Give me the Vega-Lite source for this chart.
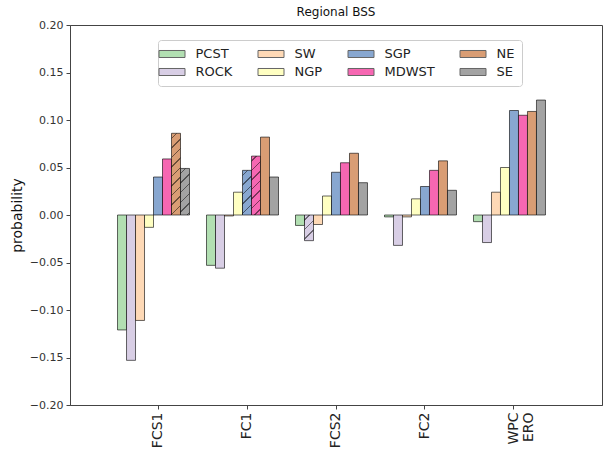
{
  "$schema": "https://vega.github.io/schema/vega-lite/v6.json",
  "autosize": {"type": "none"},
  "padding": {"left": 70, "top": 25, "right": 4, "bottom": 48},
  "width": 532,
  "height": 380,
  "config": {
    "font": "DejaVu Sans",
    "view": {"stroke": "#444", "strokeWidth": 1},
    "axis": {"grid": false, "domainColor": "#444", "tickColor": "#444", "tickSize": 4, "labelColor": "#333", "labelPadding": 3, "titleFontWeight": "normal", "titleColor": "#111"}
  },
  "title": {"text": "Regional BSS", "fontSize": 12, "fontWeight": "normal", "color": "#111", "offset": 0},
  "data": {
    "values": [
      {"group": "FCS1", "region": "PCST", "value": -0.121},
      {"group": "FCS1", "region": "ROCK", "value": -0.153},
      {"group": "FCS1", "region": "SW", "value": -0.111},
      {"group": "FCS1", "region": "NGP", "value": -0.013},
      {"group": "FCS1", "region": "SGP", "value": 0.040},
      {"group": "FCS1", "region": "MDWST", "value": 0.059},
      {"group": "FCS1", "region": "NE", "value": 0.086},
      {"group": "FCS1", "region": "SE", "value": 0.049},
      {"group": "FC1", "region": "PCST", "value": -0.053},
      {"group": "FC1", "region": "ROCK", "value": -0.056},
      {"group": "FC1", "region": "SW", "value": -0.001},
      {"group": "FC1", "region": "NGP", "value": 0.024},
      {"group": "FC1", "region": "SGP", "value": 0.047},
      {"group": "FC1", "region": "MDWST", "value": 0.062},
      {"group": "FC1", "region": "NE", "value": 0.082},
      {"group": "FC1", "region": "SE", "value": 0.040},
      {"group": "FCS2", "region": "PCST", "value": -0.011},
      {"group": "FCS2", "region": "ROCK", "value": -0.027},
      {"group": "FCS2", "region": "SW", "value": -0.010},
      {"group": "FCS2", "region": "NGP", "value": 0.020},
      {"group": "FCS2", "region": "SGP", "value": 0.045},
      {"group": "FCS2", "region": "MDWST", "value": 0.055},
      {"group": "FCS2", "region": "NE", "value": 0.065},
      {"group": "FCS2", "region": "SE", "value": 0.034},
      {"group": "FC2", "region": "PCST", "value": -0.002},
      {"group": "FC2", "region": "ROCK", "value": -0.032},
      {"group": "FC2", "region": "SW", "value": -0.002},
      {"group": "FC2", "region": "NGP", "value": 0.017},
      {"group": "FC2", "region": "SGP", "value": 0.030},
      {"group": "FC2", "region": "MDWST", "value": 0.047},
      {"group": "FC2", "region": "NE", "value": 0.057},
      {"group": "FC2", "region": "SE", "value": 0.026},
      {"group": "WPC ERO", "region": "PCST", "value": -0.007},
      {"group": "WPC ERO", "region": "ROCK", "value": -0.029},
      {"group": "WPC ERO", "region": "SW", "value": 0.024},
      {"group": "WPC ERO", "region": "NGP", "value": 0.050},
      {"group": "WPC ERO", "region": "SGP", "value": 0.110},
      {"group": "WPC ERO", "region": "MDWST", "value": 0.105},
      {"group": "WPC ERO", "region": "NE", "value": 0.109},
      {"group": "WPC ERO", "region": "SE", "value": 0.121}
    ]
  },
  "mark": {"type": "bar", "stroke": "black", "strokeOpacity": 0.6, "strokeWidth": 1, "fillOpacity": 1},
  "encoding": {
    "x": {
      "field": "group", "type": "nominal", "sort": null,
      "scale": {"domain": ["FCS1", "FC1", "FCS2", "FC2", "WPC ERO"], "paddingInner": 0.09, "paddingOuter": 0.534},
      "axis": {"title": null, "labelAngle": 270, "labelFontSize": 14, "labelColor": "#222", "labelExpr": "split(datum.label, ' ')", "labelLineHeight": 15}
    },
    "xOffset": {
      "field": "region", "type": "nominal",
      "scale": {"domain": ["PCST", "ROCK", "SW", "NGP", "SGP", "MDWST", "NE", "SE", "_"], "paddingInner": 0, "paddingOuter": 0}
    },
    "y": {
      "field": "value", "type": "quantitative", "stack": null,
      "scale": {"domain": [-0.2, 0.2], "nice": false, "zero": false},
      "axis": {"title": "probability", "titleFontSize": 14, "titlePadding": 5, "values": [-0.2, -0.15, -0.1, -0.05, 0, 0.05, 0.1, 0.15, 0.2], "format": ".2f", "labelFontSize": 11}
    },
    "fill": {
      "condition": [
        {"test": "datum.group === 'FCS1' && datum.region === 'NE'", "value": {"gradient": "linear", "x1": 0, "y1": 0, "x2": 0.1208, "y2": 1.0968, "stops": [
          {"offset": 0, "color": "#d99d74"},
          {"offset": 0.0469, "color": "#d99d74"}, {"offset": 0.0469, "color": "#6c4e3a"}, {"offset": 0.0634, "color": "#6c4e3a"}, {"offset": 0.0634, "color": "#d99d74"},
          {"offset": 0.1516, "color": "#d99d74"}, {"offset": 0.1516, "color": "#6c4e3a"}, {"offset": 0.1681, "color": "#6c4e3a"}, {"offset": 0.1681, "color": "#d99d74"},
          {"offset": 0.2563, "color": "#d99d74"}, {"offset": 0.2563, "color": "#6c4e3a"}, {"offset": 0.2729, "color": "#6c4e3a"}, {"offset": 0.2729, "color": "#d99d74"},
          {"offset": 0.3611, "color": "#d99d74"}, {"offset": 0.3611, "color": "#6c4e3a"}, {"offset": 0.3776, "color": "#6c4e3a"}, {"offset": 0.3776, "color": "#d99d74"},
          {"offset": 0.4658, "color": "#d99d74"}, {"offset": 0.4658, "color": "#6c4e3a"}, {"offset": 0.4824, "color": "#6c4e3a"}, {"offset": 0.4824, "color": "#d99d74"},
          {"offset": 0.5706, "color": "#d99d74"}, {"offset": 0.5706, "color": "#6c4e3a"}, {"offset": 0.5871, "color": "#6c4e3a"}, {"offset": 0.5871, "color": "#d99d74"},
          {"offset": 0.6753, "color": "#d99d74"}, {"offset": 0.6753, "color": "#6c4e3a"}, {"offset": 0.6918, "color": "#6c4e3a"}, {"offset": 0.6918, "color": "#d99d74"},
          {"offset": 0.78, "color": "#d99d74"}, {"offset": 0.78, "color": "#6c4e3a"}, {"offset": 0.7966, "color": "#6c4e3a"}, {"offset": 0.7966, "color": "#d99d74"},
          {"offset": 0.8848, "color": "#d99d74"}, {"offset": 0.8848, "color": "#6c4e3a"}, {"offset": 0.9013, "color": "#6c4e3a"}, {"offset": 0.9013, "color": "#d99d74"},
          {"offset": 1, "color": "#d99d74"}
        ]}},
        {"test": "datum.group === 'FCS1' && datum.region === 'SE'", "value": {"gradient": "linear", "x1": 0, "y1": 0, "x2": 0.2253, "y2": 1.1516, "stops": [
          {"offset": 0, "color": "#a3a3a3"},
          {"offset": 0.0773, "color": "#a3a3a3"}, {"offset": 0.0773, "color": "#515151"}, {"offset": 0.1045, "color": "#515151"}, {"offset": 0.1045, "color": "#a3a3a3"},
          {"offset": 0.25, "color": "#a3a3a3"}, {"offset": 0.25, "color": "#515151"}, {"offset": 0.2773, "color": "#515151"}, {"offset": 0.2773, "color": "#a3a3a3"},
          {"offset": 0.4227, "color": "#a3a3a3"}, {"offset": 0.4227, "color": "#515151"}, {"offset": 0.45, "color": "#515151"}, {"offset": 0.45, "color": "#a3a3a3"},
          {"offset": 0.5955, "color": "#a3a3a3"}, {"offset": 0.5955, "color": "#515151"}, {"offset": 0.6227, "color": "#515151"}, {"offset": 0.6227, "color": "#a3a3a3"},
          {"offset": 0.7682, "color": "#a3a3a3"}, {"offset": 0.7682, "color": "#515151"}, {"offset": 0.7955, "color": "#515151"}, {"offset": 0.7955, "color": "#a3a3a3"},
          {"offset": 0.9409, "color": "#a3a3a3"}, {"offset": 0.9409, "color": "#515151"}, {"offset": 0.9682, "color": "#515151"}, {"offset": 0.9682, "color": "#a3a3a3"},
          {"offset": 1, "color": "#a3a3a3"}
        ]}},
        {"test": "datum.group === 'FC1' && datum.region === 'SGP'", "value": {"gradient": "linear", "x1": 0, "y1": 0, "x2": 0.2347, "y2": 1.1555, "stops": [
          {"offset": 0, "color": "#88a7d0"},
          {"offset": 0.0797, "color": "#88a7d0"}, {"offset": 0.0797, "color": "#445368"}, {"offset": 0.1079, "color": "#445368"}, {"offset": 0.1079, "color": "#88a7d0"},
          {"offset": 0.258, "color": "#88a7d0"}, {"offset": 0.258, "color": "#445368"}, {"offset": 0.2861, "color": "#445368"}, {"offset": 0.2861, "color": "#88a7d0"},
          {"offset": 0.4362, "color": "#88a7d0"}, {"offset": 0.4362, "color": "#445368"}, {"offset": 0.4644, "color": "#445368"}, {"offset": 0.4644, "color": "#88a7d0"},
          {"offset": 0.6144, "color": "#88a7d0"}, {"offset": 0.6144, "color": "#445368"}, {"offset": 0.6426, "color": "#445368"}, {"offset": 0.6426, "color": "#88a7d0"},
          {"offset": 0.7927, "color": "#88a7d0"}, {"offset": 0.7927, "color": "#445368"}, {"offset": 0.8208, "color": "#445368"}, {"offset": 0.8208, "color": "#88a7d0"},
          {"offset": 1, "color": "#88a7d0"}
        ]}},
        {"test": "datum.group === 'FC1' && datum.region === 'MDWST'", "value": {"gradient": "linear", "x1": 0, "y1": 0, "x2": 0.1721, "y2": 1.1265, "stops": [
          {"offset": 0, "color": "#f667b2"},
          {"offset": 0.0626, "color": "#f667b2"}, {"offset": 0.0626, "color": "#7b3459"}, {"offset": 0.0847, "color": "#7b3459"}, {"offset": 0.0847, "color": "#f667b2"},
          {"offset": 0.2025, "color": "#f667b2"}, {"offset": 0.2025, "color": "#7b3459"}, {"offset": 0.2246, "color": "#7b3459"}, {"offset": 0.2246, "color": "#f667b2"},
          {"offset": 0.3424, "color": "#f667b2"}, {"offset": 0.3424, "color": "#7b3459"}, {"offset": 0.3645, "color": "#7b3459"}, {"offset": 0.3645, "color": "#f667b2"},
          {"offset": 0.4823, "color": "#f667b2"}, {"offset": 0.4823, "color": "#7b3459"}, {"offset": 0.5044, "color": "#7b3459"}, {"offset": 0.5044, "color": "#f667b2"},
          {"offset": 0.6222, "color": "#f667b2"}, {"offset": 0.6222, "color": "#7b3459"}, {"offset": 0.6443, "color": "#7b3459"}, {"offset": 0.6443, "color": "#f667b2"},
          {"offset": 0.7622, "color": "#f667b2"}, {"offset": 0.7622, "color": "#7b3459"}, {"offset": 0.7842, "color": "#7b3459"}, {"offset": 0.7842, "color": "#f667b2"},
          {"offset": 0.9021, "color": "#f667b2"}, {"offset": 0.9021, "color": "#7b3459"}, {"offset": 0.9242, "color": "#7b3459"}, {"offset": 0.9242, "color": "#f667b2"},
          {"offset": 1, "color": "#f667b2"}
        ]}},
        {"test": "datum.group === 'FCS2' && datum.region === 'ROCK'", "value": {"gradient": "linear", "x1": 0, "y1": 0, "x2": 0.4212, "y2": 1.2027, "stops": [
          {"offset": 0, "color": "#d8cee5"},
          {"offset": 0.1225, "color": "#d8cee5"}, {"offset": 0.1225, "color": "#6c6773"}, {"offset": 0.1657, "color": "#6c6773"}, {"offset": 0.1657, "color": "#d8cee5"},
          {"offset": 0.3963, "color": "#d8cee5"}, {"offset": 0.3963, "color": "#6c6773"}, {"offset": 0.4395, "color": "#6c6773"}, {"offset": 0.4395, "color": "#d8cee5"},
          {"offset": 0.67, "color": "#d8cee5"}, {"offset": 0.67, "color": "#6c6773"}, {"offset": 0.7133, "color": "#6c6773"}, {"offset": 0.7133, "color": "#d8cee5"},
          {"offset": 1, "color": "#d8cee5"}
        ]}}
      ],
      "field": "region", "type": "nominal",
      "scale": {
        "domain": ["PCST", "SW", "SGP", "NE", "ROCK", "NGP", "MDWST", "SE"],
        "range": ["#b2dfb2", "#fed9b6", "#88a7d0", "#d99d74", "#d8cee5", "#ffffc2", "#f667b2", "#a3a3a3"]
      },
      "legend": {
        "orient": "none", "legendX": 88, "legendY": 15, "columns": 4, "direction": "horizontal", "title": null,
        "symbolType": "M-2,-0.54H2V0.54H-2Z", "symbolSize": 169, "symbolStrokeColor": "#666", "symbolStrokeWidth": 1, "symbolOpacity": 1,
        "labelFontSize": 13, "labelColor": "#222", "labelOffset": 16.5,
        "columnPadding": 23, "rowPadding": 4, "padding": 7,
        "strokeColor": "#ccc", "fillColor": "white", "cornerRadius": 3
      }
    }
  }
}
